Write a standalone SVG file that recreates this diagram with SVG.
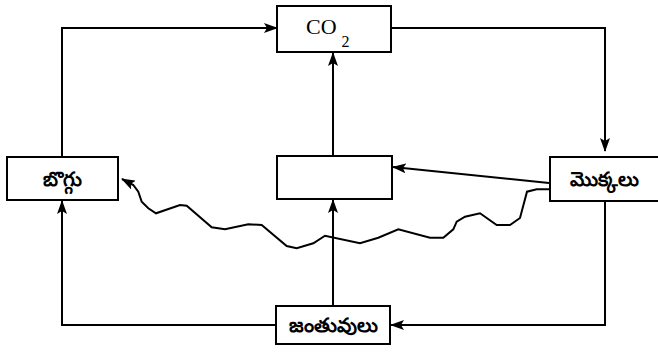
<svg xmlns="http://www.w3.org/2000/svg" width="658" height="354" viewBox="0 0 658 354">
<defs>
<marker id="ah" markerWidth="14" markerHeight="10" refX="13" refY="5" orient="auto" markerUnits="userSpaceOnUse">
<path d="M0,0 L14,5 L0,10 L3,5 Z" fill="#000"/>
</marker>
<style>
.box{fill:#fff;stroke:#000;stroke-width:2}
.ln{fill:none;stroke:#000;stroke-width:2;marker-end:url(#ah)}
.tl{font-family:"Noto Sans","DejaVu Sans",sans-serif;font-size:20px;font-weight:bold;text-anchor:middle}
.co{font-family:"Liberation Serif",serif;font-size:22px}
</style>
</defs>
<rect width="658" height="354" fill="#fff"/>
<g id="connectors">
<path class="ln" d="M62,157 V28 H277"/>
<path class="ln" d="M391,28 H605 V151"/>
<path class="ln" d="M333,156 V53"/>
<path class="ln" d="M549,183 L393,167"/>
<path class="ln" d="M333,306 V200"/>
<path class="ln" d="M276,325 H62 V201"/>
<path class="ln" d="M605,201 V325 H391"/>
<path class="ln" d="M550,189.3 L536.7,189.3 L527,191.7 L520,218 L510,225 L496.7,225 L480,213.3 L465,216.7 L456.7,221.7 L453.3,229.3 L443.3,237.7 L430,237.7 L398.3,229.3 L378.3,237.7 L360,243.3 L325,235.7 L313.3,243.3 L296.7,248.3 L286.7,246 L261.7,225 L248.3,224.3 L225,229.3 L211.7,227.3 L186.7,205.7 L180,205 L156,213.3 L148.3,208.3 L141.7,201.7 L138.3,191.7 L133.3,185 L122,179"/>
</g>
<g id="co2">
<rect class="box" x="277" y="6" width="114" height="46"/>
<text class="co" x="306" y="34">CO<tspan font-size="16" dx="5" dy="13">2</tspan></text>
</g>
<g id="coal">
<rect class="box" x="7" y="157" width="111" height="43"/>
<text class="tl" x="62" y="186">బొగ్గు</text>
</g>
<g id="plants">
<rect class="box" x="550" y="157" width="112" height="44"/>
<text class="tl" x="604" y="186">మొక్కలు</text>
</g>
<g id="middle">
<rect class="box" x="277" y="156" width="115" height="43"/>
</g>
<g id="animals">
<rect class="box" x="276" y="306" width="114" height="38"/>
<text class="tl" x="333" y="332">జంతువులు</text>
</g>
</svg>
